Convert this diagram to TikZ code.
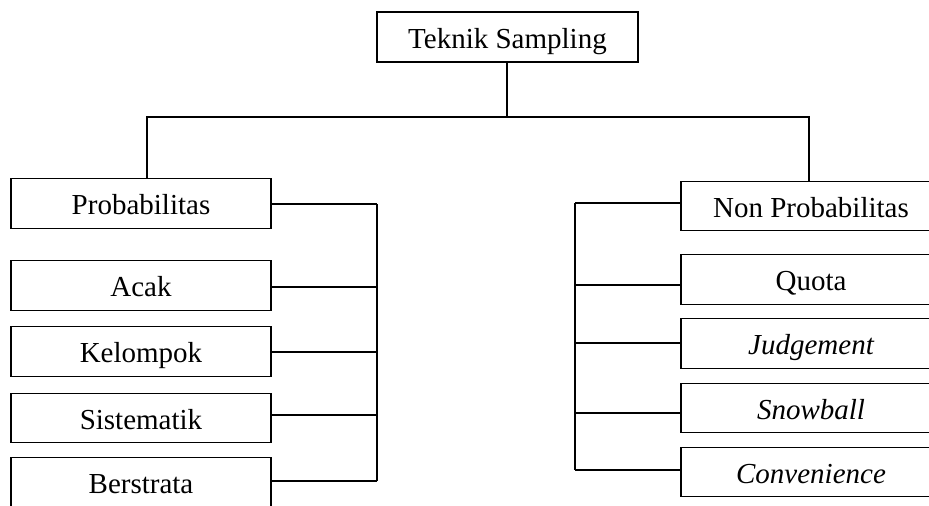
\documentclass[tikz,border=0pt]{standalone}
\usepackage{fontspec}
\setmainfont{Liberation Serif}
\begin{document}
\begin{tikzpicture}[x=0.5pt, y=-0.5pt,
  every node/.style={font=\fontsize{14.5pt}{17pt}\selectfont},
  catbox/.style={draw, line width=0.55pt, inner sep=0pt, outer sep=0pt,
    minimum width=130pt, minimum height=24.75pt,
    text height=11.3pt, text depth=0pt},
  link/.style={line width=0.95pt},
  bus/.style={line width=1.05pt}]
\useasboundingbox (0,0) rectangle (929,506);
\clip (0,0) rectangle (929,506);

% root
\node[catbox, minimum width=130.5pt, minimum height=25pt] (root) at (507.5,37) {Teknik Sampling};

% probability branch
\node[catbox] (prob) at (141,203.5) {Probabilitas};
\node[catbox] (acak) at (141,285.5) {Acak};
\node[catbox] (kelompok) at (141,351.5) {Kelompok};
\node[catbox] (sistematik) at (141,418) {Sistematik};
\node[catbox] (berstrata) at (141,482) {Berstrata};

% non-probability branch
\node[catbox] (nonprob) at (811,206) {Non Probabilitas};
\node[catbox] (quota) at (811,279.5) {Quota};
\node[catbox] (judgement) at (811,343.5) {\itshape Judgement};
\node[catbox] (snowball) at (811,408) {\itshape Snowball};
\node[catbox] (convenience) at (811,472) {\itshape Convenience};

% top split
\coordinate (hub) at (507,117);
\coordinate (lx) at (147,117);
\coordinate (rx) at (809,117);
\draw[bus] (root.south -| hub) -- (hub);
\draw[bus] (prob.north -| lx) -- (lx) -- (rx) -- (nonprob.north -| rx);

% left bus
\coordinate (lb1) at (377,204);
\coordinate (lb2) at (377,287);
\coordinate (lb3) at (377,352);
\coordinate (lb4) at (377,415);
\coordinate (lb5) at (377,481);
\draw[bus] (lb1) -- (lb5);
\draw[link] (lb1) -- (lb1 -| prob.east);
\draw[link] (lb2) -- (lb2 -| acak.east);
\draw[link] (lb3) -- (lb3 -| kelompok.east);
\draw[link] (lb4) -- (lb4 -| sistematik.east);
\draw[link] (lb5) -- (lb5 -| berstrata.east);

% right bus
\coordinate (rb1) at (575,203);
\coordinate (rb2) at (575,285);
\coordinate (rb3) at (575,343);
\coordinate (rb4) at (575,413);
\coordinate (rb5) at (575,470);
\draw[bus] (rb1) -- (rb5);
\draw[link] (rb1) -- (rb1 -| nonprob.west);
\draw[link] (rb2) -- (rb2 -| quota.west);
\draw[link] (rb3) -- (rb3 -| judgement.west);
\draw[link] (rb4) -- (rb4 -| snowball.west);
\draw[link] (rb5) -- (rb5 -| convenience.west);
\end{tikzpicture}
\end{document}
